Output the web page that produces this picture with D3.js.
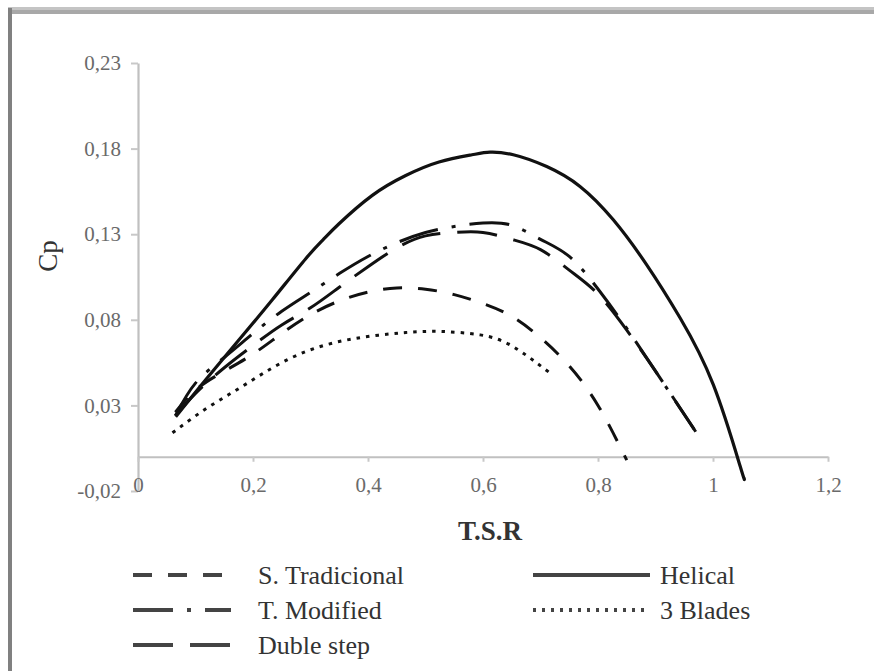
<!DOCTYPE html>
<html>
<head>
<meta charset="utf-8">
<script src="https://cdn.jsdelivr.net/npm/d3@7"></script>
<style>
  html, body { margin: 0; padding: 0; background: #fff; }
  svg { display: block; }
</style>
</head>
<body>
<svg id="chart" width="874" height="671"></svg>
<script>
// ---- data ----
const seriesNames = ["S. Tradicional", "T. Modified", "Duble step", "Helical", "3 Blades"];

const tsrTradicional = [0.065, 0.1, 0.15, 0.2, 0.25, 0.3, 0.35, 0.4, 0.45, 0.5, 0.55, 0.6, 0.65, 0.7, 0.75, 0.8, 0.85];
const cpTradicional  = [0.026, 0.039, 0.050, 0.060, 0.072, 0.083, 0.091, 0.0962, 0.0986, 0.0979, 0.0947, 0.0895, 0.082, 0.0695, 0.053, 0.030, -0.002];

const tsrModified = [0.065, 0.1, 0.15, 0.2, 0.25, 0.3, 0.35, 0.4, 0.45, 0.5, 0.55, 0.6, 0.65, 0.7, 0.75, 0.8, 0.85, 0.9, 0.97];
const cpModified  = [0.024, 0.043, 0.058, 0.072, 0.085, 0.096, 0.107, 0.117, 0.125, 0.131, 0.1345, 0.1365, 0.1352, 0.127, 0.117, 0.098, 0.075, 0.050, 0.0146];

const tsrDuble = [0.065, 0.1, 0.15, 0.2, 0.25, 0.3, 0.35, 0.4, 0.45, 0.5, 0.55, 0.6, 0.65, 0.7, 0.75, 0.8, 0.85, 0.9, 0.97];
const cpDuble  = [0.024, 0.037, 0.052, 0.065, 0.077, 0.087, 0.099, 0.111, 0.122, 0.129, 0.131, 0.131, 0.127, 0.121, 0.109, 0.095, 0.074, 0.050, 0.0146];

const tsrHelical = [0.0656, 0.1177, 0.1757, 0.2336, 0.2917, 0.3217, 0.3496, 0.4075, 0.4656, 0.5235, 0.5809, 0.6122, 0.6527, 0.7108, 0.7687, 0.8266, 0.8847, 0.9426, 1.0005, 1.047, 1.054];
const cpHelical  = [0.0234, 0.045, 0.0683, 0.0917, 0.1157, 0.1267, 0.1361, 0.1527, 0.1643, 0.1722, 0.1764, 0.1779, 0.1764, 0.1695, 0.1579, 0.1384, 0.1121, 0.0812, 0.0421, -0.0053, -0.0123];

const tsr3Blades = [0.06, 0.118, 0.176, 0.234, 0.292, 0.35, 0.408, 0.466, 0.524, 0.595, 0.652, 0.72];
const cp3Blades  = [0.014, 0.028, 0.040, 0.052, 0.0615, 0.0673, 0.0706, 0.0726, 0.0732, 0.0712, 0.0644, 0.048];

const xTickValues = [0, 0.2, 0.4, 0.6, 0.8, 1, 1.2];
const xTickLabels = ["0", "0,2", "0,4", "0,6", "0,8", "1", "1,2"];
const yTickValues = [-0.02, 0.03, 0.08, 0.13, 0.18, 0.23];
const yTickLabels = ["-0,02", "0,03", "0,08", "0,13", "0,18", "0,23"];

// ---- build ----
const svg = d3.select("#chart");
const W = 874, H = 671;

// frame (top and left border of the cropped figure)
svg.append("rect").attr("x", 8).attr("y", 7).attr("width", W - 8).attr("height", 3).attr("fill", "#c4c4c4");
svg.append("rect").attr("x", 8).attr("y", 10).attr("width", W - 8).attr("height", 4).attr("fill", "#a8a8a8");
svg.append("rect").attr("x", 8).attr("y", 8).attr("width", 4).attr("height", H - 8).attr("fill", "#808080");

const x = d3.scaleLinear().domain([0, 1.2]).range([138, 828]);
const y = d3.scaleLinear().domain([-0.02, 0.23]).range([491, 63]);

const serif = "'Liberation Serif', 'Times New Roman', Tinos, 'DejaVu Serif', serif";

// y axis
const yAxis = d3.axisLeft(y)
  .tickValues(yTickValues)
  .tickFormat((d, i) => yTickLabels[i])
  .tickSize(7).tickSizeOuter(0).tickPadding(10);
const gy = svg.append("g").attr("transform", `translate(${x(0)},0)`).call(yAxis);

// x axis at Cp = 0
const xAxis = d3.axisBottom(x)
  .tickValues(xTickValues)
  .tickFormat((d, i) => xTickLabels[i])
  .tickSize(5).tickSizeOuter(0).tickPadding(15);
const gx = svg.append("g").attr("transform", `translate(0,${y(0)})`).call(xAxis);

[gx, gy].forEach(g => {
  g.select(".domain").attr("stroke", "#c0c0c0").attr("stroke-width", 2.2);
  g.selectAll(".tick line").attr("stroke", "#c8c8c8").attr("stroke-width", 2);
  g.selectAll(".tick text")
    .attr("font-family", serif).attr("font-size", 21).attr("fill", "#6a6a6a");
});

// axis titles
svg.append("text")
  .attr("x", 490).attr("y", 540)
  .attr("text-anchor", "middle")
  .attr("font-family", serif).attr("font-weight", "bold").attr("font-size", 27)
  .attr("fill", "#333").text("T.S.R");

svg.append("text")
  .attr("transform", "translate(57,256) rotate(-90)")
  .attr("text-anchor", "middle")
  .attr("font-family", serif).attr("font-size", 27)
  .attr("fill", "#333").text("Cp");

// series
const styles = {
  "S. Tradicional": { dash: "19,16", width: 3 },
  "T. Modified":    { dash: "40,14,4,14", width: 3 },
  "Duble step":     { dash: "40,17", width: 3 },
  "Helical":        { dash: null, width: 3.2 },
  "3 Blades":       { dash: "3.5,6", width: 3 }
};

const seriesData = [
  { name: "S. Tradicional", xs: tsrTradicional, ys: cpTradicional },
  { name: "T. Modified",    xs: tsrModified,    ys: cpModified },
  { name: "Duble step",     xs: tsrDuble,       ys: cpDuble },
  { name: "Helical",        xs: tsrHelical,     ys: cpHelical },
  { name: "3 Blades",       xs: tsr3Blades,     ys: cp3Blades }
];

const line = d3.line()
  .x(d => x(d[0])).y(d => y(d[1]))
  .curve(d3.curveNatural);

const plot = svg.append("g");
seriesData.forEach(s => {
  const pts = s.xs.map((v, i) => [v, s.ys[i]]);
  const st = styles[s.name];
  plot.append("path")
    .datum(pts)
    .attr("d", line)
    .attr("fill", "none")
    .attr("stroke", "#111")
    .attr("stroke-width", st.width)
    .attr("stroke-dasharray", st.dash)
    .attr("stroke-linecap", "butt");
});

// legend
const legendPos = {
  "S. Tradicional": { col: 0, row: 0 },
  "T. Modified":    { col: 0, row: 1 },
  "Duble step":     { col: 0, row: 2 },
  "Helical":        { col: 1, row: 0 },
  "3 Blades":       { col: 1, row: 1 }
};
const colX = [[133, 231, 258], [533, 650, 660]];
const rowY = [575, 610, 645];

const legend = svg.append("g");
seriesNames.forEach(name => {
  const p = legendPos[name], st = styles[name];
  const [x1, x2, tx] = colX[p.col];
  const yy = rowY[p.row];
  legend.append("line")
    .attr("x1", x1).attr("x2", x2).attr("y1", yy).attr("y2", yy)
    .attr("stroke", "#444").attr("stroke-width", 4)
    .attr("stroke-dasharray", name === "3 Blades" ? "3,6" : st.dash);
  legend.append("text")
    .attr("x", tx).attr("y", yy).attr("dy", "0.33em")
    .attr("font-family", serif).attr("font-size", 26).attr("fill", "#333")
    .text(name);
});
</script>
</body>
</html>
